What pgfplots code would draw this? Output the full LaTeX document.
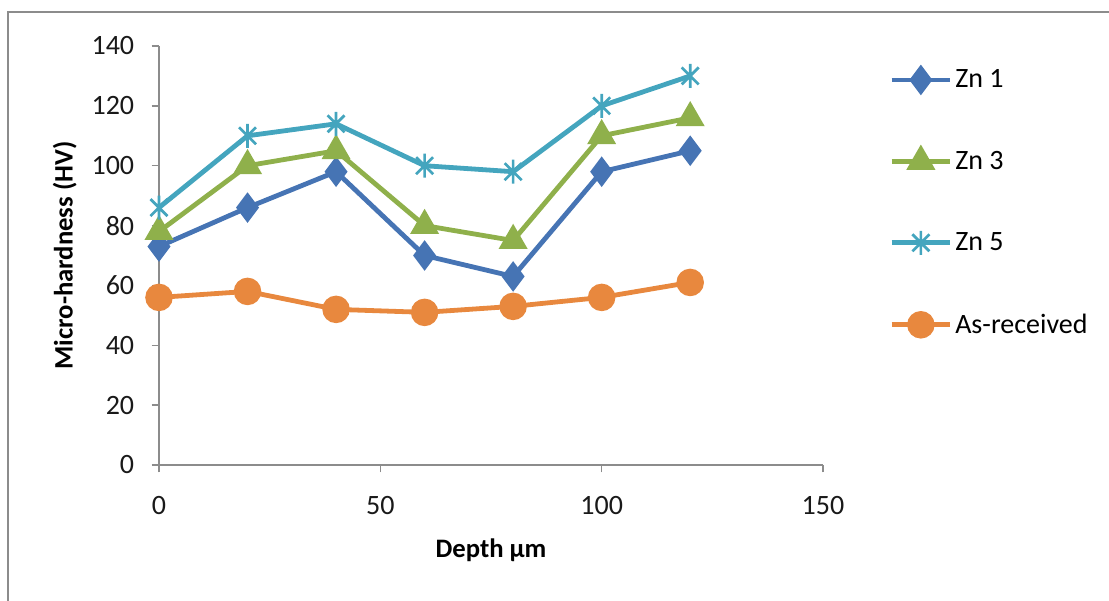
\documentclass[border=0pt]{standalone}
\usepackage{pgfplots}
\pgfplotsset{compat=1.18}
\usepackage{fontspec}
\setmainfont{Carlito}
\definecolor{cZnA}{HTML}{4674B4}
\definecolor{cZnB}{HTML}{8FB04B}
\definecolor{cZnC}{HTML}{44A5BE}
\definecolor{cAsr}{HTML}{E8883E}
\definecolor{axgray}{HTML}{8C8C8C}
\pgfdeclareplotmark{xstar}{%
  \pgfpathmoveto{\pgfqpoint{0pt}{\pgfplotmarksize}}%
  \pgfpathlineto{\pgfqpoint{0pt}{-\pgfplotmarksize}}%
  \pgfpathmoveto{\pgfqpoint{0.7071\pgfplotmarksize}{0.7071\pgfplotmarksize}}%
  \pgfpathlineto{\pgfqpoint{-0.7071\pgfplotmarksize}{-0.7071\pgfplotmarksize}}%
  \pgfpathmoveto{\pgfqpoint{-0.7071\pgfplotmarksize}{0.7071\pgfplotmarksize}}%
  \pgfpathlineto{\pgfqpoint{0.7071\pgfplotmarksize}{-0.7071\pgfplotmarksize}}%
  \pgfusepathqstroke}
\begin{document}
\begin{tikzpicture}
\useasboundingbox (0pt,0pt) rectangle (831.75pt,450pt);
\draw[axgray,line width=2.2pt] (6pt,-15pt) -- (6pt,441pt) -- (850pt,441pt);
\begin{axis}[
  at={(119.25pt,101.25pt)}, anchor=south west,
  scale only axis, width=498pt, height=314.25pt,
  xmin=0, xmax=150, ymin=0, ymax=140,
  xtick={0,50,100,150}, ytick={0,20,...,140},
  axis lines=left, axis line style={axgray, line width=1.1pt, -},
  tick style={axgray, line width=1.1pt},
  tick align=outside, major tick length=5.5pt,
  /pgf/number format/assume math mode=true,
  ticklabel style={font=\fontsize{21}{25}\selectfont, text=black!90},
  yticklabel style={xshift=-8pt},
  xticklabel style={yshift=-13pt},
  xlabel={\textbf{Depth µm}},
  ylabel={\textbf{Micro-hardness (HV)}},
  every axis x label/.style={at={(axis description cs:0.5,-0.203)}, anchor=center, font=\fontsize{20}{24}\selectfont},
  every axis y label/.style={at={(axis description cs:-0.142,0.5)}, rotate=90, anchor=center, font=\fontsize{20}{24}\selectfont},
  clip=false,
  line width=3.6pt,
  legend style={draw=none, fill=none, at={(axis description cs:1.096,0.955)}, anchor=north west,
    font=\fontsize{21}{25}\selectfont, row sep=42pt, inner sep=0pt,
    nodes={inner sep=2pt}},
  legend cell align=left,
  legend image code/.code={\draw[mark repeat=2,mark phase=2,#1] plot coordinates {(0pt,0pt) (22pt,0pt) (44pt,0pt)};},
]
\addplot[cZnA, mark=diamond*, mark size=8.5pt, mark options={solid}] coordinates {
(0,73) (20,86) (40,98) (60,70) (80,63) (100,98) (120,105)};
\addlegendentry{Zn 1}
\addplot[cZnB, mark=triangle*, mark size=9pt, mark options={solid}] coordinates {
(0,78) (20,100) (40,105) (60,80) (80,75) (100,110) (120,116)};
\addlegendentry{Zn 3}
\addplot[cZnC, mark=xstar, mark size=9pt, mark options={solid, line width=2pt}] coordinates {
(0,86) (20,110) (40,114) (60,100) (80,98) (100,120) (120,130)};
\addlegendentry{Zn 5}
\addplot[cAsr, mark=*, mark size=8.5pt, mark options={solid}] coordinates {
(0,56) (20,58) (40,52) (60,51) (80,53) (100,56) (120,61)};
\addlegendentry{As-received}
\end{axis}
\end{tikzpicture}
\end{document}
